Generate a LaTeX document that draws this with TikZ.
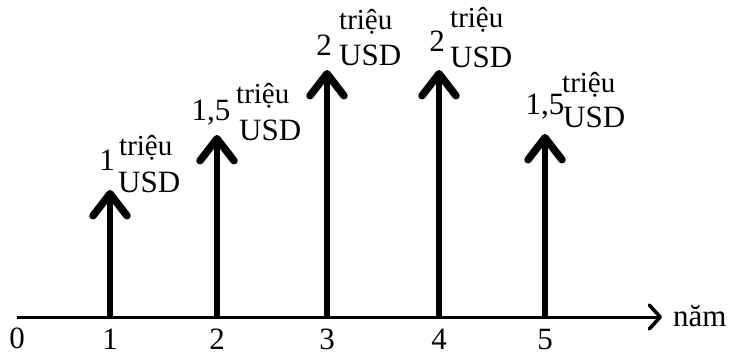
\documentclass[tikz,border=0pt]{standalone}
\usepackage{fontspec}
\setmainfont{Liberation Serif}
\usetikzlibrary{arrows.meta}
\begin{document}
\begin{tikzpicture}[x=1pt,y=-1pt,
  lbl/.style={inner sep=0pt,font=\fontsize{31}{32}\selectfont},
  small/.style={inner sep=0pt,font=\fontsize{29}{30}\selectfont},
  cash/.style={line width=6.5pt,-{Straight Barb[length=22pt,width=34pt,line width=7.5pt,round]}},
  axis/.style={line width=3pt,-{Straight Barb[length=11pt,width=24pt,line width=3.5pt,round]}}]
\useasboundingbox (0,0) rectangle (737,356);
\coordinate (a0) at (17,317);
\coordinate (aend) at (662,317);
\draw[axis] (a0) -- (aend);
\node[lbl,anchor=west] (nam) at (673,316) {năm};
% ticks
\foreach \i/\x in {1/110,2/217,3/327,4/439,5/545}{
  \coordinate (b\i) at (\x,317);
  \node[lbl] (x\i) at (\x,339) {\i};
}
\node[lbl] (x0) at (17,338) {0};
\coordinate (t1) at (110,190);
\coordinate (t2) at (217,135);
\coordinate (t3) at (327,70);
\coordinate (t4) at (439,70);
\coordinate (t5) at (545,134);
\foreach \i in {1,...,5}{\draw[cash] (b\i) -- (t\i);}
% labels
\node[lbl] (v1) at (107,160) {1};
\node[small,anchor=west] (tr1) at (119,148) {triệu};
\node[lbl,anchor=west] (u1) at (118,182) {USD};
\node[lbl] (v2) at (211,113) {1,5};
\node[small,anchor=west] (tr2) at (236,96) {triệu};
\node[lbl,anchor=west] (u2) at (239,130) {USD};
\node[lbl] (v3) at (324,45) {2};
\node[small,anchor=west] (tr3) at (339,22) {triệu};
\node[lbl,anchor=west] (u3) at (339,55) {USD};
\node[lbl] (v4) at (437,41) {2};
\node[small,anchor=west] (tr4) at (450,20) {triệu};
\node[lbl,anchor=west] (u4) at (450,57) {USD};
\node[lbl] (v5) at (545,107) {1,5};
\node[small,anchor=west] (tr5) at (562,85) {triệu};
\node[lbl,anchor=west] (u5) at (563,117) {USD};
\end{tikzpicture}
\end{document}
